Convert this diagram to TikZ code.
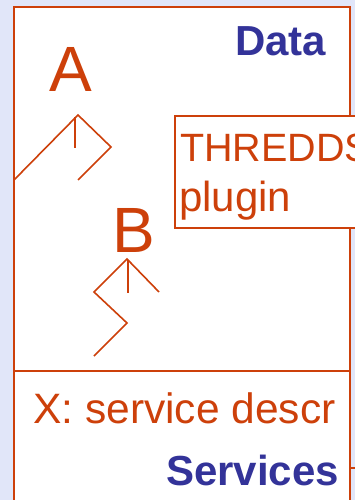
\documentclass[tikz,border=0pt]{standalone}
\usepackage{fontspec}
\setmainfont{Liberation Sans}
\definecolor{rust}{RGB}{205,64,10}
\definecolor{navy}{RGB}{51,51,153}
\definecolor{lavender}{RGB}{225,230,249}
\tikzset{
  frameline/.style={draw=rust, line width=2.2pt},
  figline/.style={draw=rust, line width=1.6pt},
  orangetext/.style={inner sep=0pt, text=rust, font=\fontsize{42}{50}\selectfont},
  titletext/.style={inner sep=0pt, text=rust, font=\fontsize{39.5}{48}\selectfont},
  desctext/.style={inner sep=0pt, text=rust, font=\fontsize{42.5}{50}\selectfont},
  bluetext/.style={inner sep=0pt, text=navy, font=\fontsize{42}{50}\selectfont\bfseries},
  lettertext/.style={inner sep=0pt, text=rust, font=\fontsize{64}{76}\selectfont},
}
\begin{document}
\begin{tikzpicture}[x=1pt, y=-1pt]
  % canvas
  \fill[lavender] (0,0) rectangle (355,500);
  \useasboundingbox (0,0) rectangle (355,500);

  % outer component frame
  \coordinate (ftl) at (14,7);
  \coordinate (fbr) at (350,515);
  \filldraw[frameline, fill=white] (ftl) rectangle (fbr);

  % separator between data and services compartments
  \coordinate (sepL) at (14,371);
  \coordinate (sepR) at (350,371);
  \draw[frameline] (sepL) -- (sepR);

  % plugin box overlapping the right edge
  \node[frameline, fill=white, anchor=north west, minimum width=200pt,
        minimum height=112pt, inner sep=0pt] (plugin) at (174,115) {};

  % edge of a neighbouring box at the lower right
  \coordinate (nbL) at (350,468);
  \coordinate (nbR) at (360,468);
  \draw[frameline] (nbL) -- (nbR);

  % compartment titles
  \node[bluetext, anchor=base west] (data) at (235,56) {Data};
  \node[bluetext, anchor=base west] (services) at (166,485) {Services};

  % plugin label
  \node[titletext, anchor=base west] (thredds) at (180,161.5) {THREDDS};
  \node[orangetext, anchor=base west] (pluginlbl) at (179,211) {plugin};

  % service description
  \node[desctext, anchor=base west] (xdesc) at (33,423) {X: service descr};

  % interface letters
  \node[lettertext, anchor=base west] (la) at (49,92) {A};
  \node[lettertext, anchor=base west] (lb) at (112,252) {B};

  % interface symbol A
  \coordinate (a1) at (14,180);
  \coordinate (a2) at (78,115);
  \coordinate (a3) at (111,147);
  \coordinate (a4) at (78,180);
  \coordinate (a5) at (75,117);
  \coordinate (a6) at (75,148);
  \draw[figline] (a1) -- (a2) -- (a3) -- (a4);
  \draw[figline] (a5) -- (a6);

  % interface symbol B
  \coordinate (b1) at (159,292);
  \coordinate (b2) at (127,259);
  \coordinate (b3) at (94,292);
  \coordinate (b4) at (127,323);
  \coordinate (b5) at (94,356);
  \coordinate (b6) at (128,260);
  \coordinate (b7) at (128,293);
  \draw[figline] (b1) -- (b2) -- (b3) -- (b4) -- (b5);
  \draw[figline] (b6) -- (b7);
\end{tikzpicture}
\end{document}
